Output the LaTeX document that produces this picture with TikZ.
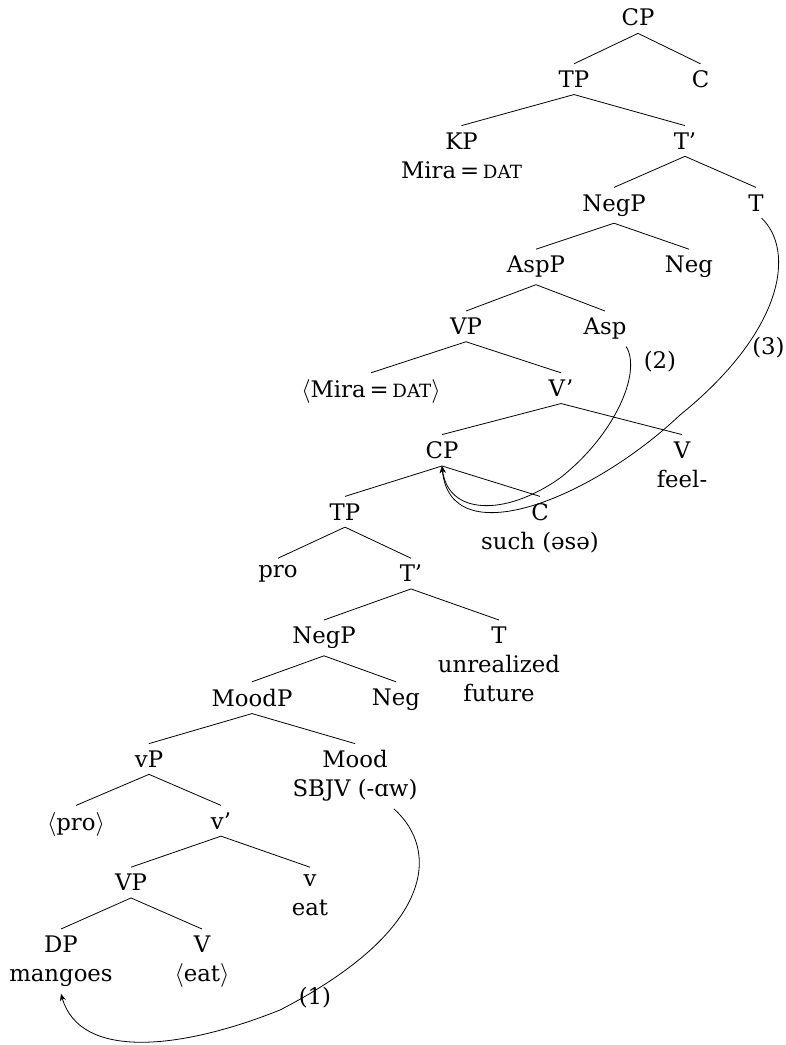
\documentclass[tikz,border=0pt]{standalone}
\usepackage{fontspec}
\setmainfont{DejaVu Serif}[Scale=0.95]
\newcommand{\glossc}[1]{{\fontsize{9.6}{10}\selectfont #1}}
\usetikzlibrary{arrows.meta}
\tikzset{
  cat/.style={anchor=north, align=center, inner sep=3.33pt},
  move/.style={-{Stealth[length=3.5pt,width=3pt]}},
  step label/.style={inner sep=0pt}
}

\begin{document}
\begin{tikzpicture}[x=0.5pt, y=-0.5pt, font=\fontsize{12}{14.5}\selectfont]
\useasboundingbox (0,0) rectangle (786,1045);
% matrix clause
\node[cat] (cp) at (638,2) {CP};
\node[cat] (tp) at (574,63.8) {TP};
\node[cat] (c) at (700.5,63.8) {C};
\node[cat] (kp) at (461.5,125.6) {KP\\Mira\,=\,\glossc{DAT}};
\node[cat] (tbar) at (685,125.6) {T’};
\node[cat] (negp) at (614,187.4) {NegP};
\node[cat] (t) at (756,187.4) {T};
\node[cat] (aspp) at (536,249.2) {AspP};
\node[cat] (neg) at (689,249.2) {Neg};
\node[cat] (vp) at (466,311) {VP};
\node[cat] (asp) at (605,311) {Asp};
\node[cat] (mira) at (371,372.8) {$\langle$Mira\,=\,\glossc{DAT}$\rangle$};
\node[cat] (vbar) at (561,372.8) {V’};
% embedded clause
\node[cat] (cpe) at (442,434.6) {CP};
\node[cat] (v) at (682,434.6) {V\\feel-};
\node[cat] (tpe) at (345,496.4) {TP};
\node[cat] (ce) at (540,496.4) {C\\such (əsə)};
\node[cat] (pro) at (278,558.2) {pro};
\node[cat] (tbare) at (411,558.2) {T’};
\node[cat] (negpe) at (324,620) {NegP};
\node[cat] (te) at (499,620) {T\\unrealized\\future};
\node[cat] (moodp) at (252,681.8) {MoodP};
\node[cat] (nege) at (396,681.8) {Neg};
\node[cat] (svp) at (149,743.6) {vP};
\node[cat] (mood) at (355,743.6) {Mood\\SBJV (-ɑw)};
\node[cat] (spro) at (76,805.4) {$\langle$pro$\rangle$};
\node[cat] (svbar) at (221,805.4) {v’};
\node[cat] (vpe) at (131,867.2) {VP};
\node[cat] (sv) at (310,867.2) {v\\eat};
\node[cat] (dp) at (61,929) {DP\\mangoes};
\node[cat] (ve) at (202,929) {V\\$\langle$eat$\rangle$};
% branches
\foreach \a/\b in {cp/tp, cp/c, tp/kp, tp/tbar, tbar/negp, tbar/t, negp/aspp, negp/neg,
  aspp/vp, aspp/asp, vp/mira, vp/vbar, vbar/cpe, vbar/v, cpe/tpe, cpe/ce, tpe/pro, tpe/tbare,
  tbare/negpe, tbare/te, negpe/moodp, negpe/nege, moodp/svp, moodp/mood, svp/spro, svp/svbar,
  svbar/vpe, svbar/sv, vpe/dp, vpe/ve}
  \draw (\a.south) -- (\b.north);
% movement
\draw[move] (mood.-40) .. controls (440,850) and (435,930) .. (280,1010)
  .. controls (180,1050) and (80,1060) .. (dp.south);
\draw[move] (asp.-40) .. controls (642,372) and (615,435) .. (560,478)
  .. controls (505,517) and (448,515) .. (cpe.south);
\draw[move] (t.-70) .. controls (795,250) and (785,330) .. (680,415)
  .. controls (590,500) and (450,555) .. (cpe.south);
\node[step label] (one) at (315,998) {(1)};
\node[step label] (two) at (660,362) {(2)};
\node[step label, anchor=east] (three) at (785,348) {(3)};
\end{tikzpicture}
\end{document}
